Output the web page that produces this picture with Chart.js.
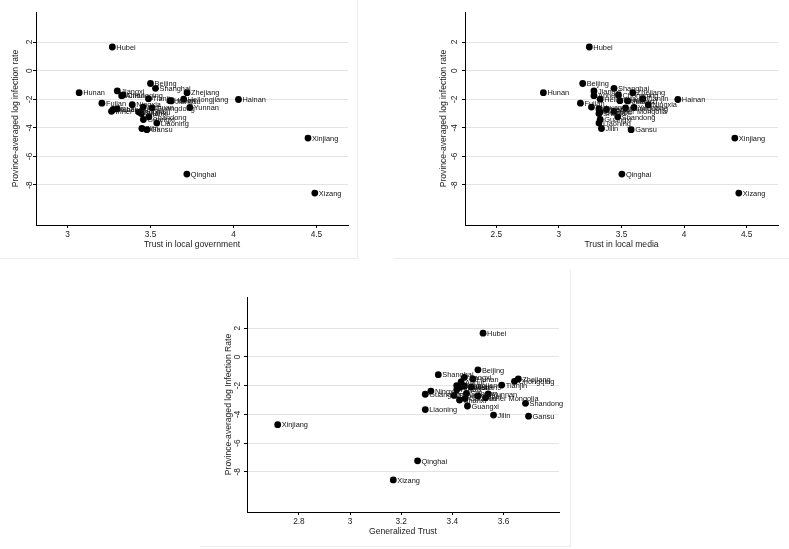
<!DOCTYPE html>
<html>
<head>
<meta charset="utf-8">
<script src="https://cdn.jsdelivr.net/npm/chart.js@4.4.1/dist/chart.umd.min.js"></script>
<style>
  html, body { margin: 0; padding: 0; background: #fff; }
  body { width: 789px; height: 549px; position: relative; overflow: hidden; }
  canvas { position: absolute; }
  .edge { position: absolute; background: #ececec; }
</style>
</head>
<body>
<div class="edge" style="left:357px;top:0;width:1px;height:259px"></div>
<div class="edge" style="left:0;top:258px;width:358px;height:1px"></div>
<div class="edge" style="left:394px;top:258px;width:395px;height:1px"></div>
<div class="edge" style="left:570px;top:270px;width:1px;height:277px"></div>
<div class="edge" style="left:200px;top:546px;width:371px;height:1px"></div>

<canvas id="govChart" width="357" height="258" style="left:0;top:0"></canvas>
<canvas id="mediaChart" width="359" height="258" style="left:430px;top:0"></canvas>
<canvas id="genChart" width="360" height="276" style="left:210px;top:270px"></canvas>

<script>
// ===== DATA =====
const provinces = [
  "Hubei", "Beijing", "Shanghai", "Jiangxi", "Hunan", "Zhejiang", "Chongqing",
  "Anhui", "Tianjin", "Hainan", "Heilongjiang", "Henan", "Jiangsu", "Fujian",
  "Ningxia", "Sichuan", "Yunnan", "Guangdong", "Shaanxi", "Inner Mongolia",
  "Hebei", "Shanxi", "Guizhou", "Shandong", "Guangxi", "Liaoning", "Jilin",
  "Gansu", "Xinjiang", "Qinghai", "Xizang"
];
const logInfection = [
  1.65, -0.90, -1.24, -1.42, -1.54, -1.54, -1.70,
  -1.75, -1.96, -2.02, -2.00, -2.10, -2.12, -2.28,
  -2.38, -2.55, -2.58, -2.60, -2.68, -2.85,
  -2.72, -3.00, -2.90, -3.23, -3.42, -3.67, -4.05,
  -4.13, -4.72, -7.24, -8.57
];
const trustGov = [
  3.27, 3.50, 3.53, 3.30, 3.07, 3.72, 3.335,
  3.326, 3.488, 4.03, 3.70, 3.617, 3.625, 3.207,
  3.39, 3.456, 3.737, 3.51, 3.30, 3.265,
  3.275, 3.445, 3.43, 3.49, 3.457, 3.538, 3.448,
  3.478, 4.449, 3.719, 4.49
];
const trustMedia = [
  3.243, 3.19, 3.44, 3.28, 2.876, 3.59, 3.476,
  3.28, 3.67, 3.95, 3.33, 3.487, 3.55, 3.172,
  3.714, 3.26, 3.60, 3.532, 3.32, 3.44,
  3.38, 3.32, 3.33, 3.47, 3.33, 3.32, 3.34,
  3.577, 4.405, 3.503, 4.437
];
const trustGeneral = [
  3.52, 3.50, 3.345, 3.447, 3.48, 3.658, 3.643,
  3.434, 3.593, 3.447, 3.417, 3.474, 3.43, 3.417,
  3.316, 3.455, 3.54, 3.294, 3.407, 3.53,
  3.50, 3.428, 3.45, 3.686, 3.459, 3.294, 3.561,
  3.698, 2.717, 3.264, 3.169
];
const yTicks = [2, 0, -2, -4, -6, -8];
const govTicks = [3, 3.5, 4, 4.5];
const mediaTicks = [2.5, 3, 3.5, 4, 4.5];
const generalTicks = [2.8, 3, 3.2, 3.4, 3.6];

const FONT = '"Liberation Sans", Arial, Helvetica, sans-serif';

/* ===== marker labels ===== */
const markerLabels = {
  id: "markerLabels",
  afterDatasetsDraw(chart) {
    const ctx = chart.ctx;
    const meta = chart.getDatasetMeta(0);
    ctx.save();
    ctx.font = "7.4px " + FONT;
    ctx.fillStyle = "#111";
    ctx.textAlign = "left";
    ctx.textBaseline = "middle";
    meta.data.forEach((pt, i) => {
      ctx.fillText(provinces[i], pt.x + 4, pt.y + 0.7);
    });
    ctx.restore();
  }
};

function makePanel(id, xs, xTicks, xMin, xMax, xTitle, yTitle, box) {
  return new Chart(document.getElementById(id), {
    type: "scatter",
    data: {
      datasets: [{
        data: xs.map((x, i) => ({ x: x, y: logInfection[i] })),
        backgroundColor: "#000",
        borderColor: "#000",
        pointRadius: 3.4,
        pointHoverRadius: 3.4,
        borderWidth: 0
      }]
    },
    options: {
      responsive: false,
      animation: false,
      events: [],
      layout: { padding: { top: box.top, right: box.right, left: 0, bottom: 0 } },
      plugins: { legend: { display: false }, tooltip: { enabled: false } },
      scales: {
        x: {
          type: "linear",
          min: xMin,
          max: xMax,
          afterBuildTicks: s => { s.ticks = xTicks.map(v => ({ value: v })); },
          afterFit: s => { s.height = box.xh; },
          border: { color: "#000", width: 1 },
          grid: { drawOnChartArea: false, tickColor: "#000", tickLength: 3 },
          ticks: {
            color: "#1a1a1a",
            font: { family: FONT, size: 8.3 },
            padding: 2,
            maxRotation: 0,
            callback: v => String(v)
          },
          title: {
            display: true,
            text: xTitle,
            color: "#1a1a1a",
            font: { family: FONT, size: 8.6 },
            padding: { top: 0, bottom: box.xtp }
          }
        },
        y: {
          type: "linear",
          min: -10.8,
          max: box.ymax,
          afterBuildTicks: s => { s.ticks = yTicks.map(v => ({ value: v })); },
          afterFit: s => { s.width = box.yw; },
          border: { color: "#000", width: 1 },
          grid: { color: "#e4e4e4", tickColor: "#000", tickLength: 3 },
          ticks: {
            color: "#1a1a1a",
            font: { family: FONT, size: 8.3 },
            minRotation: 90,
            maxRotation: 90,
            crossAlign: "center",
            padding: box.ytp,
            callback: v => String(v)
          },
          title: {
            display: true,
            text: yTitle,
            color: "#1a1a1a",
            font: { family: FONT, size: 8.6 },
            padding: { top: box.ytt, bottom: 0 }
          }
        }
      }
    },
    plugins: [markerLabels]
  });
}

makePanel("govChart", trustGov, govTicks, 2.81, 4.69,
  "Trust in local government", "Province-averaged log infection rate",
  { top: 12, right: 9, xh: 33, yw: 36, xtp: 8.5, ytp: -0.5, ytt: 10.5, ymax: 4.1 });

makePanel("mediaChart", trustMedia, mediaTicks, 2.25, 4.75,
  "Trust in local media", "Province-averaged log infection rate",
  { top: 12, right: 11, xh: 33, yw: 35, xtp: 8.5, ytp: 4, ytt: 8.8, ymax: 4.1 });

makePanel("genChart", trustGeneral, generalTicks, 2.597, 3.817,
  "Generalized Trust", "Province-averaged log Infection Rate",
  { top: 27, right: 11, xh: 34, yw: 37, xtp: 9.1, ytp: 3, ytt: 13.1, ymax: 4.17 });
</script>
</body>
</html>
